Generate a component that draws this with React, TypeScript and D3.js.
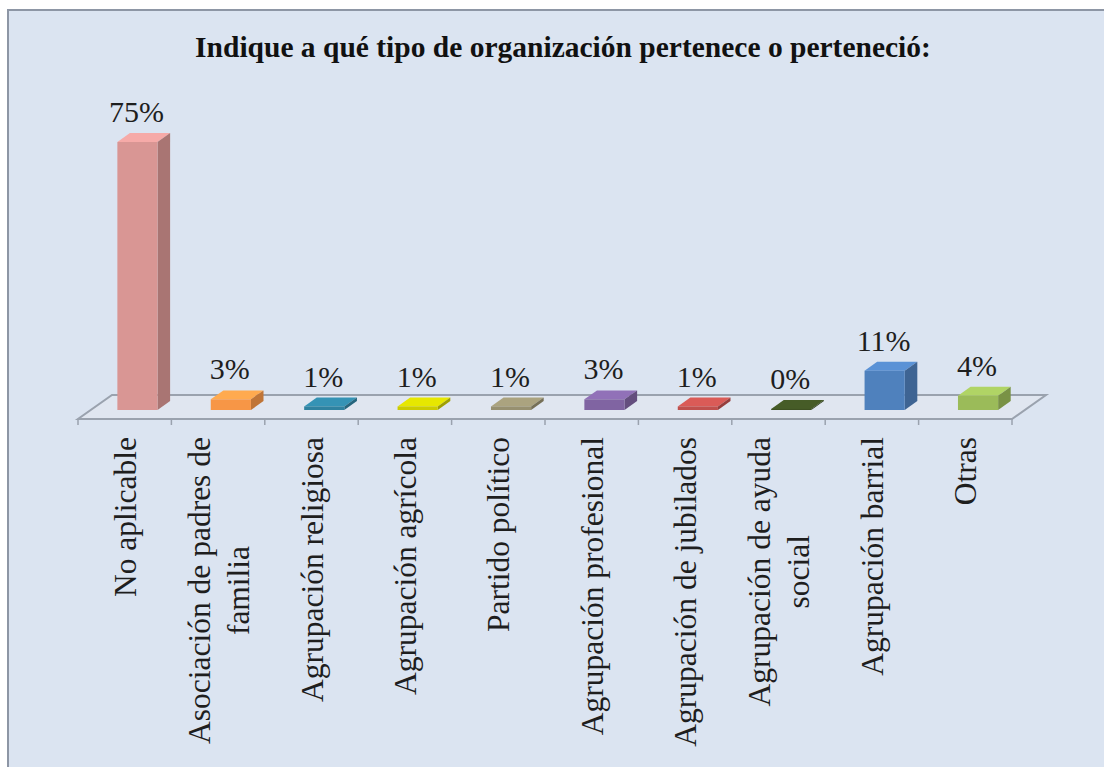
import React, { useEffect, useRef } from "react";
import * as d3 from "d3";

const title = "Indique a qué tipo de organización pertenece o perteneció:";
const categories = [
  ["No aplicable"],
  ["Asociación de padres de", "familia"],
  ["Agrupación religiosa"],
  ["Agrupación agrícola"],
  ["Partido político"],
  ["Agrupación profesional"],
  ["Agrupación de jubilados"],
  ["Agrupación de ayuda", "social"],
  ["Agrupación barrial"],
  ["Otras"],
];
const values = [75, 3, 1, 1, 1, 3, 1, 0.3, 11, 4];
const valueLabels = ["75%", "3%", "1%", "1%", "1%", "3%", "1%", "0%", "11%", "4%"];
const colors = ["#d99694", "#f79646", "#2f82a0", "#cccc00", "#979070", "#8064a2", "#c0504d", "#3e5122", "#4f81bd", "#9bbb59"];

const W = 1104;
const H = 767;
const FONT = "Liberation Serif, Tinos, Times New Roman, Times, DejaVu Serif, serif";

export default function App() {
  const ref = useRef<SVGSVGElement | null>(null);

  useEffect(() => {
    const svg = d3.select(ref.current);
    svg.selectAll("*").remove();

    svg.append("rect").attr("x", 0).attr("y", 0).attr("width", W).attr("height", H).attr("fill", "#ffffff");
    svg.append("rect")
      .attr("x", 8).attr("y", 10).attr("width", W + 20).attr("height", H + 20)
      .attr("fill", "#dbe4f1").attr("stroke", "#8d96a5").attr("stroke-width", 2);

    svg.append("text")
      .attr("x", 563).attr("y", 57)
      .attr("text-anchor", "middle")
      .style("font-family", FONT).attr("font-weight", "bold").attr("font-size", 29.5)
      .attr("fill", "#111")
      .text(title);

    const keys = categories.map((_, i) => String(i));
    const x = d3.scaleBand<string>().domain(keys).range([78, 1012]);
    const frontY = 419;
    const depth = { dx: 34, dy: -24 };
    const baseT = 0.375;
    const barT = 0.37;
    const y = d3.scaleLinear().domain([0, 75]).range([0, 268]);
    const barW = x.step() * 0.43;

    const x0 = x.range()[0];
    const x1 = x.range()[1];
    const floorPts: [number, number][] = [
      [x0, frontY],
      [x1, frontY],
      [x1 + depth.dx, frontY + depth.dy],
      [x0 + depth.dx, frontY + depth.dy],
    ];
    svg.append("path")
      .attr("d", d3.line()(floorPts) + "Z")
      .attr("fill", "#e0e6f0")
      .attr("stroke", "#9aa2ae")
      .attr("stroke-width", 2);

    const tickXs = keys.map((k) => x(k) as number).concat([x1]);
    svg.selectAll(".tick")
      .data(tickXs)
      .enter()
      .append("line")
      .attr("x1", (d) => d).attr("x2", (d) => d)
      .attr("y1", frontY).attr("y2", frontY + 6)
      .attr("stroke", "#9aa2ae").attr("stroke-width", 1.5);

    const bx = depth.dx * barT;
    const by = depth.dy * barT;
    values.forEach((v, i) => {
      const cx = (x(String(i)) as number) + x.bandwidth() / 2 + depth.dx * baseT;
      const base = frontY + depth.dy * baseT;
      const h = y(v);
      const l = cx - barW / 2;
      const r = cx + barW / 2;
      const t = base - h;
      const c = d3.color(colors[i]) as d3.RGBColor;
      const g = svg.append("g");
      g.append("path")
        .attr("d", d3.line()([[l, t], [r, t], [r + bx, t + by], [l + bx, t + by]]) + "Z")
        .attr("fill", c.brighter(0.35).formatHex());
      g.append("path")
        .attr("d", d3.line()([[r, t], [r + bx, t + by], [r + bx, base + by], [r, base]]) + "Z")
        .attr("fill", c.darker(0.7).formatHex());
      g.append("rect")
        .attr("x", l).attr("y", t).attr("width", barW).attr("height", h)
        .attr("fill", colors[i]);

      svg.append("text")
        .attr("x", cx - 1).attr("y", t + by - 11)
        .attr("text-anchor", "middle")
        .style("font-family", FONT).attr("font-size", 30)
        .attr("fill", "#1e1e1e")
        .text(valueLabels[i]);
    });

    const topY = 437;
    const lineGap = 39;
    categories.forEach((lines, i) => {
      const cx = (x(String(i)) as number) + x.bandwidth() / 2;
      const texts = lines.map((line, j) => {
        const lx = cx + (j - (lines.length - 1) / 2) * lineGap;
        return svg.append("text")
          .attr("transform", `translate(${lx},${topY}) rotate(-90)`)
          .attr("dy", "0.35em")
          .attr("text-anchor", "middle")
          .style("font-family", FONT).attr("font-size", 31.5)
          .attr("fill", "#1e1e1e")
          .text(line);
      });
      const maxLen = d3.max(texts, (t) => (t.node() as SVGTextElement).getComputedTextLength()) || 0;
      texts.forEach((t) => t.attr("x", -maxLen / 2));
    });
  }, []);

  return (
    <svg
      ref={ref}
      width={W}
      height={H}
      style={{ position: "absolute", left: 0, top: 0, display: "block" }}
    />
  );
}
